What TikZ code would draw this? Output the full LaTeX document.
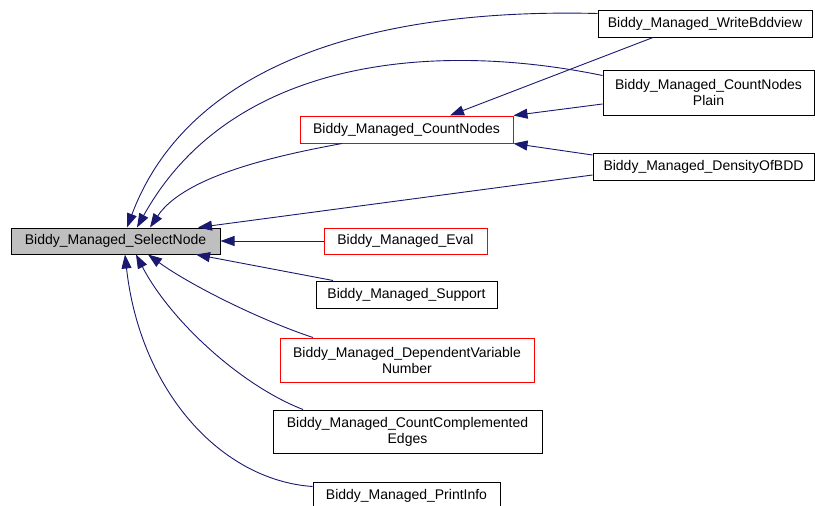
\documentclass[tikz,border=0pt]{standalone}
\usepackage{fontspec}
\setmainfont{Liberation Sans}
\usetikzlibrary{arrows.meta,positioning}
\definecolor{edgeblue}{HTML}{191970}

\begin{document}
\begin{tikzpicture}[x=1pt,y=-1pt,every node/.style={font=\fontsize{14}{16}\selectfont,align=center,inner sep=0pt},box/.style={draw=black,line width=1pt,minimum height=27pt},redbox/.style={box,draw=red},selbox/.style={box,fill=black!25},arrow/.style={-{Triangle[length=14pt,width=10pt]},line width=0.9pt,edgeblue}]
\useasboundingbox (0,0) rectangle (815,506);
\node[selbox,minimum width=209pt,minimum height=26pt] (sel) at (115.5,241) {Biddy\_Managed\_SelectNode};
\node[redbox,minimum width=213pt] (cn) at (406.5,129.5) {Biddy\_Managed\_CountNodes};
\node[box,minimum width=214pt] (wb) at (705,23.5) {Biddy\_Managed\_WriteBddview};
\node[box,minimum width=211pt,minimum height=45pt] (plain) at (708.5,92.5) {Biddy\_Managed\_CountNodes\\Plain};
\node[box,minimum width=221pt] (dens) at (703.5,166.5) {Biddy\_Managed\_DensityOfBDD};
\node[redbox,minimum width=163pt,minimum height=26pt] (eval) at (405.5,241) {Biddy\_Managed\_Eval};
\node[box,minimum width=181pt] (supp) at (406.5,294.5) {Biddy\_Managed\_Support};
\node[redbox,minimum width=254pt,minimum height=44pt] (dvn) at (407,360) {Biddy\_Managed\_DependentVariable\\Number};
\node[box,minimum width=269pt,minimum height=43pt] (cce) at (407.5,431.5) {Biddy\_Managed\_CountComplemented\\Edges};
\node[box,minimum width=187pt] (pinfo) at (406.5,495.5) {Biddy\_Managed\_PrintInfo};
% callers of CountNodes
\draw[arrow] ([xshift=-52pt]wb.south) -- ([xshift=43.5pt]cn.north);
\draw[arrow] ([yshift=-11.5pt]plain.west) -- (cn.north east);
\draw[arrow] ([yshift=11.5pt]dens.west) -- (cn.south east);
% callers of SelectNode
\draw[arrow] ([yshift=10pt]wb.west) .. controls (380,8) and (190,60) .. ([xshift=11.5pt]sel.north);
\draw[arrow] ([yshift=17pt]plain.west) .. controls (430,40) and (230,60) .. ([xshift=21.5pt]sel.north);
\draw[arrow] ([xshift=-64.5pt]cn.south) .. controls (280,155) and (185,175) .. ([xshift=34.5pt]sel.north);
\draw[arrow] ([yshift=-8.5pt]dens.west) -- ([xshift=82.5pt]sel.north);
\draw[arrow] (eval.west) -- (sel.east);
\draw[arrow] ([xshift=-73.5pt]supp.north) -- ([xshift=80.5pt]sel.south);
\draw[arrow] ([xshift=-94pt]dvn.north) .. controls (260,320) and (190,285) .. ([xshift=32.5pt]sel.south);
\draw[arrow] ([xshift=-104.5pt]cce.north) .. controls (240,385) and (170,320) .. ([xshift=20.5pt]sel.south);
\draw[arrow] ([yshift=-5pt]pinfo.north west) .. controls (220,480) and (140,390) .. ([xshift=9.5pt]sel.south);
\end{tikzpicture}
\end{document}
